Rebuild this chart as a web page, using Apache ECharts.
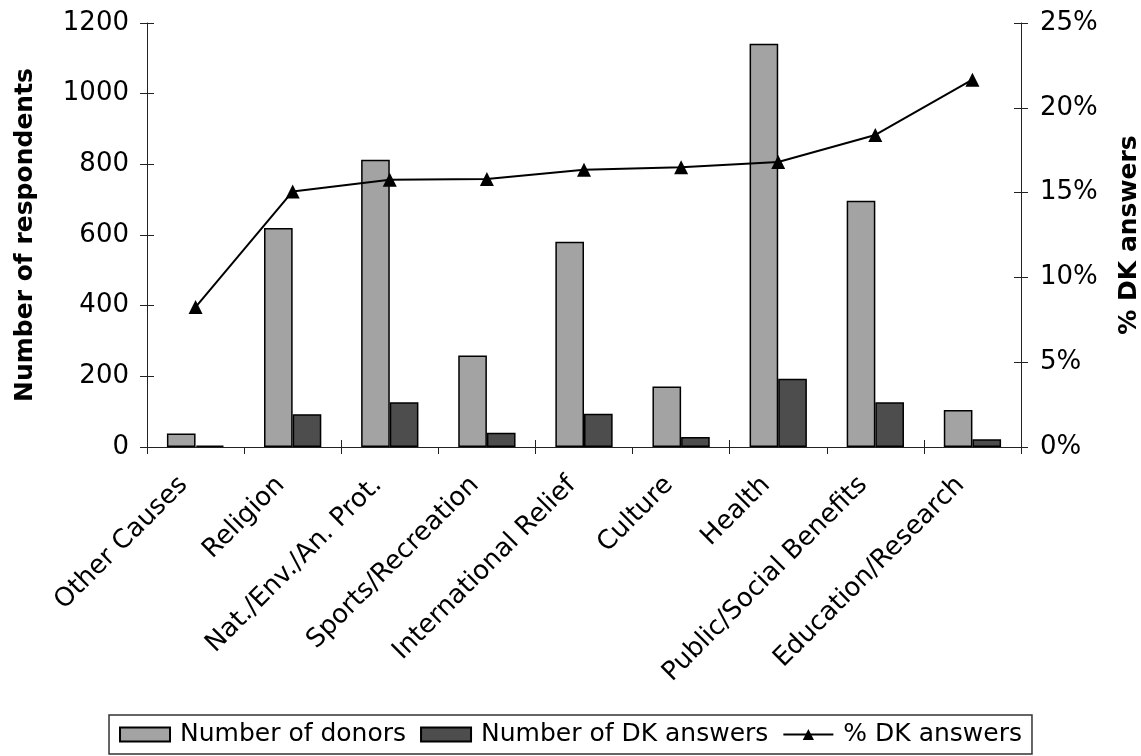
<!DOCTYPE html>
<html>
<head>
<meta charset="utf-8">
<style>
  html, body { margin: 0; padding: 0; background: #fff; }
  #chart { width: 1141px; height: 756px; }
</style>
<script src="https://cdn.jsdelivr.net/npm/echarts@6/dist/echarts.min.js"></script>
</head>
<body>
<div id="chart"></div>
<script>
// Causes supported by donors
const categories = ['Other Causes', 'Religion', 'Nat./Env./An. Prot.', 'Sports/Recreation',
  'International Relief', 'Culture', 'Health', 'Public/Social Benefits', 'Education/Research'];
// Number of donors per cause
const donors = [38, 620, 813, 259, 581, 171, 1141, 697, 105];
// Number of "don't know" answers per cause
const dkAnswers = [4, 93, 127, 40, 94, 28, 193, 127, 22];
// Share of "don't know" answers (%)
const dkPercent = [8.25, 15.07, 15.76, 15.8, 16.35, 16.49, 16.8, 18.4, 21.66];

const leftTicks = { min: 0, max: 1200, interval: 200 };
const rightTicks = { min: 0, max: 25, interval: 5 };

const FONT = 'DejaVu Sans';
const axisColor = '#222';

const chart = echarts.init(document.getElementById('chart'), null, { renderer: 'canvas' });

// Axes that only draw the inner half of the crossing tick marks
const innerTickY = (pos, t) => ({
  type: 'value', position: pos, min: t.min, max: t.max, interval: t.interval,
  axisLine: { show: false }, axisLabel: { show: false }, splitLine: { show: false },
  axisTick: { show: true, inside: true, length: 7, lineStyle: { color: axisColor, width: 1 } }
});

chart.setOption({
  animation: false,
  backgroundColor: '#fff',
  textStyle: { fontFamily: FONT, color: '#000' },
  grid: { left: 147, right: 120, top: 23, bottom: 309, containLabel: false, outerBoundsMode: 'none' },
  legend: {
    left: 'center', top: 715,
    padding: [7, 10, 7, 10],
    borderColor: '#333', borderWidth: 1.5,
    itemWidth: 50, itemHeight: 14, itemGap: 14,
    textStyle: { fontFamily: FONT, fontSize: 25, color: '#000', padding: [0, 0, 0, 5] },
    data: [
      { name: 'Number of donors', icon: 'rect' },
      { name: 'Number of DK answers', icon: 'rect' },
      { name: '% DK answers' }
    ]
  },
  xAxis: [
    {
      type: 'category', data: categories, position: 'bottom',
      axisLine: { show: true, lineStyle: { color: axisColor, width: 1 } },
      axisTick: { show: true, length: 7, alignWithLabel: false, lineStyle: { color: axisColor } },
      axisLabel: {
        fontFamily: FONT, fontSize: 26, color: '#000', rotate: 45, margin: 22, interval: 0,
        padding: [0, 17, 0, 0]
      },
      splitLine: { show: false }
    },
    {
      type: 'category', data: categories, position: 'bottom', gridIndex: 0,
      axisLine: { show: false }, axisLabel: { show: false },
      axisTick: { show: true, inside: true, length: 7, alignWithLabel: false, lineStyle: { color: axisColor } }
    }
  ],
  yAxis: [
    {
      type: 'value', position: 'left', min: leftTicks.min, max: leftTicks.max, interval: leftTicks.interval,
      name: 'Number of respondents', nameLocation: 'middle', nameRotate: 90, nameGap: 109,
      nameTextStyle: { fontFamily: FONT, fontWeight: 'bold', fontSize: 25, color: '#000' },
      axisLine: { show: true, lineStyle: { color: axisColor, width: 1 } },
      axisTick: { show: true, length: 7, lineStyle: { color: axisColor } },
      axisLabel: { fontFamily: FONT, fontSize: 26, color: '#000', margin: 18, formatter: v => String(v) },
      splitLine: { show: false }
    },
    {
      type: 'value', position: 'right', min: rightTicks.min, max: rightTicks.max, interval: rightTicks.interval,
      name: '% DK answers', nameLocation: 'middle', nameRotate: 90, nameGap: 96,
      nameTextStyle: { fontFamily: FONT, fontWeight: 'bold', fontSize: 25, color: '#000' },
      axisLine: { show: true, lineStyle: { color: axisColor, width: 1 } },
      axisTick: { show: true, length: 7, lineStyle: { color: axisColor } },
      axisLabel: { fontFamily: FONT, fontSize: 26, color: '#000', margin: 19, formatter: '{value}%' },
      splitLine: { show: false }
    },
    innerTickY('left', leftTicks),
    innerTickY('right', rightTicks)
  ],
  series: [
    {
      name: 'Number of donors', type: 'bar', data: donors, xAxisIndex: 0, yAxisIndex: 0,
      barGap: '0%', barCategoryGap: '41%',
      itemStyle: { color: '#a3a3a3', borderColor: '#000', borderWidth: 1.5 }
    },
    {
      name: 'Number of DK answers', type: 'bar', data: dkAnswers, xAxisIndex: 0, yAxisIndex: 0,
      barGap: '0%', barCategoryGap: '41%',
      itemStyle: { color: '#4d4d4d', borderColor: '#000', borderWidth: 1.5 }
    },
    {
      name: '% DK answers', type: 'line', data: dkPercent, xAxisIndex: 0, yAxisIndex: 1,
      symbol: 'triangle', symbolSize: 14, z: 5,
      lineStyle: { color: '#000', width: 2 },
      itemStyle: { color: '#000' }
    }
  ]
});
</script>
</body>
</html>
